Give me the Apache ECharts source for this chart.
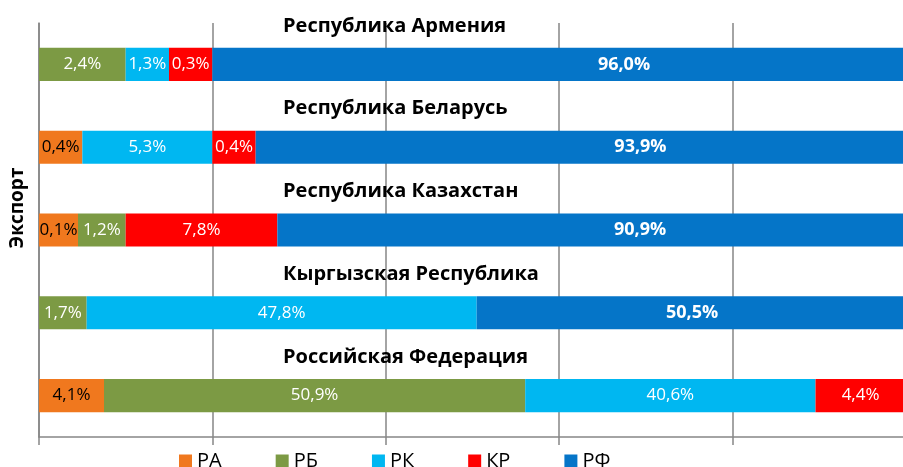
<!DOCTYPE html>
<html>
<head>
<meta charset="utf-8">
<script src="https://cdn.jsdelivr.net/npm/echarts@6/dist/echarts.min.js"></script>
<style>
  html, body { margin: 0; padding: 0; background: #fff; }
  #chart { width: 903px; height: 467px; }
</style>
</head>
<body>
<div id="chart"></div>
<script>
var countries = ['Республика Армения', 'Республика Беларусь', 'Республика Казахстан', 'Кыргызская Республика', 'Российская Федерация'];
var seriesNames = ['РА', 'РБ', 'РК', 'КР', 'РФ'];

// bar lengths as drawn (axis units), labels are the shares printed on bars
var valRA = [0, 25, 22.5, 0, 37.5];
var valRB = [50, 0, 27.5, 27.5, 243];
var valRK = [25, 75, 0, 225, 167.5];
var valKR = [25, 25, 87.5, 0, 52];
var valRF = [475, 444, 418.5, 248.5, 0];

var lblRA = ['', '0,4%', '0,1%', '', '4,1%'];
var lblRB = ['2,4%', '', '1,2%', '1,7%', '50,9%'];
var lblRK = ['1,3%', '5,3%', '', '47,8%', '40,6%'];
var lblKR = ['0,3%', '0,4%', '7,8%', '', '4,4%'];
var lblRF = ['96,0%', '93,9%', '90,9%', '50,5%', ''];

var colors = ['#F0781E', '#7C9A44', '#00B7F1', '#FF0000', '#0575C8'];
var font = 'Open Sans';

function makeSeries(name, values, labels, color, textColor, bold) {
  return {
    name: name,
    type: 'bar',
    stack: 'total',
    barCategoryGap: '60%',
    itemStyle: { color: color },
    label: {
      show: true,
      position: 'inside',
      fontFamily: font,
      fontSize: bold ? 18 : 17,
      color: textColor,
      fontWeight: bold ? 'bold' : 'normal',
      formatter: function (p) { return labels[p.dataIndex]; }
    },
    data: values
  };
}

var option = {
  animation: false,
  grid: { left: 39, width: 1040, top: 23, bottom: 30, outerBoundsMode: 'none', containLabel: false },
  legend: {
    left: 174,
    top: 446,
    icon: 'rect',
    itemWidth: 13,
    itemHeight: 13,
    itemGap: 54,
    textStyle: { fontFamily: font, fontSize: 20, color: '#000' },
    data: seriesNames
  },
  xAxis: {
    type: 'value',
    min: 0,
    max: 600,
    interval: 100,
    axisLabel: { show: false },
    axisLine: { show: true, lineStyle: { color: '#868686', width: 1.5 } },
    axisTick: { show: true, length: 8, lineStyle: { color: '#868686', width: 1.5 } },
    splitLine: { show: true, lineStyle: { color: '#868686', width: 1.5 } }
  },
  yAxis: {
    type: 'category',
    inverse: true,
    data: countries,
    name: 'Экспорт',
    nameLocation: 'middle',
    nameRotate: 90,
    nameGap: 12,
    nameTextStyle: { fontFamily: font, fontSize: 19, fontWeight: 'bold', color: '#000', padding: [0, 0, 0, 44] },
    axisLine: { show: true, lineStyle: { color: '#868686', width: 1.5 } },
    axisTick: { show: false },
    axisLabel: {
      inside: true,
      margin: 244,
      interval: 0,
      align: 'left',
      verticalAlign: 'bottom',
      lineHeight: 77,
      fontFamily: font,
      fontSize: 20,
      fontWeight: 'bold',
      color: '#000'
    }
  },
  series: [
    makeSeries('РА', valRA, lblRA, colors[0], '#000', false),
    makeSeries('РБ', valRB, lblRB, colors[1], '#fff', false),
    makeSeries('РК', valRK, lblRK, colors[2], '#fff', false),
    makeSeries('КР', valKR, lblKR, colors[3], '#fff', false),
    makeSeries('РФ', valRF, lblRF, colors[4], '#fff', true)
  ]
};

var myChart = echarts.init(document.getElementById('chart'));
myChart.setOption(option, true);
</script>
</body>
</html>
